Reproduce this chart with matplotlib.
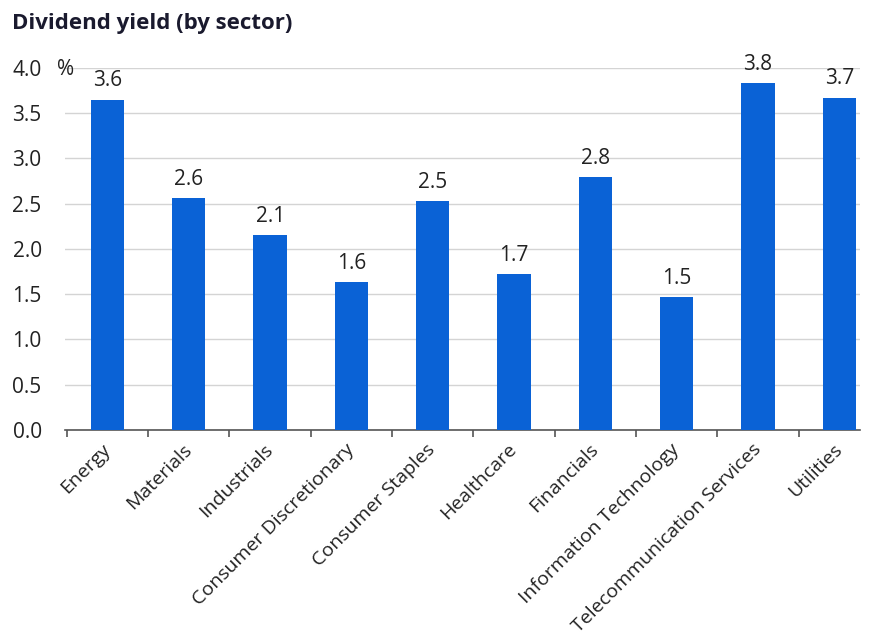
import matplotlib.pyplot as plt
from matplotlib.ticker import FixedLocator

sectors = ["Energy", "Materials", "Industrials", "Consumer Discretionary",
           "Consumer Staples", "Healthcare", "Financials",
           "Information Technology", "Telecommunication Services", "Utilities"]
yields = [3.65, 2.56, 2.15, 1.63, 2.53, 1.72, 2.79, 1.47, 3.83, 3.67]
value_labels = ["3.6", "2.6", "2.1", "1.6", "2.5", "1.7", "2.8", "1.5", "3.8", "3.7"]
y_ticks = [0.0, 0.5, 1.0, 1.5, 2.0, 2.5, 3.0, 3.5, 4.0]

plt.rcParams['font.family'] = ['Open Sans', 'DejaVu Sans']

fig = plt.figure(figsize=(8.7, 6.35), dpi=100)
ax = fig.add_axes([0.075, 0.323, 0.913, 0.570])

x = list(range(len(sectors)))
bars = ax.bar(x, yields, width=0.41, color="#0a62d6", zorder=3)

for b, lbl in zip(bars, value_labels):
    ax.annotate(lbl, (b.get_x() + b.get_width() / 2, b.get_height()),
                xytext=(0, 6), textcoords="offset points",
                ha="center", va="bottom", fontsize=15, color="#222222")

ax.set_ylim(0, 4.0)
ax.set_xlim(-0.52, 9.25)
ax.set_yticks(y_ticks)
ax.set_yticklabels([f"{v:.1f}" for v in y_ticks], fontsize=15, color="#222222")
ax.yaxis.grid(True, color="#d4d4d4", linewidth=1, zorder=0)
ax.tick_params(axis="y", length=0, pad=17)

# category labels at centers, ticks at boundaries
ax.set_xticks(x)
ax.set_xticklabels(sectors, rotation=45, ha="right", va="center",
                   rotation_mode="anchor", fontsize=14, color="#222222")
ax.tick_params(axis="x", which="major", length=0, pad=12)
ax.xaxis.set_minor_locator(FixedLocator([i - 0.5 for i in range(len(sectors) + 1)]))
ax.tick_params(axis="x", which="minor", length=5, width=1.2, color="#555555", direction="out")

for s in ["top", "right", "left"]:
    ax.spines[s].set_visible(False)
ax.spines["bottom"].set_color("#555555")
ax.spines["bottom"].set_linewidth(1.2)

fig.text(0.014, 0.963, "Dividend yield (by sector)", fontsize=16,
         fontweight="bold", color="#1a1a2e", va="center")
fig.text(0.066, 0.891, "%", fontsize=15, color="#222222", va="center")

fig.savefig("out.png", dpi=100)
